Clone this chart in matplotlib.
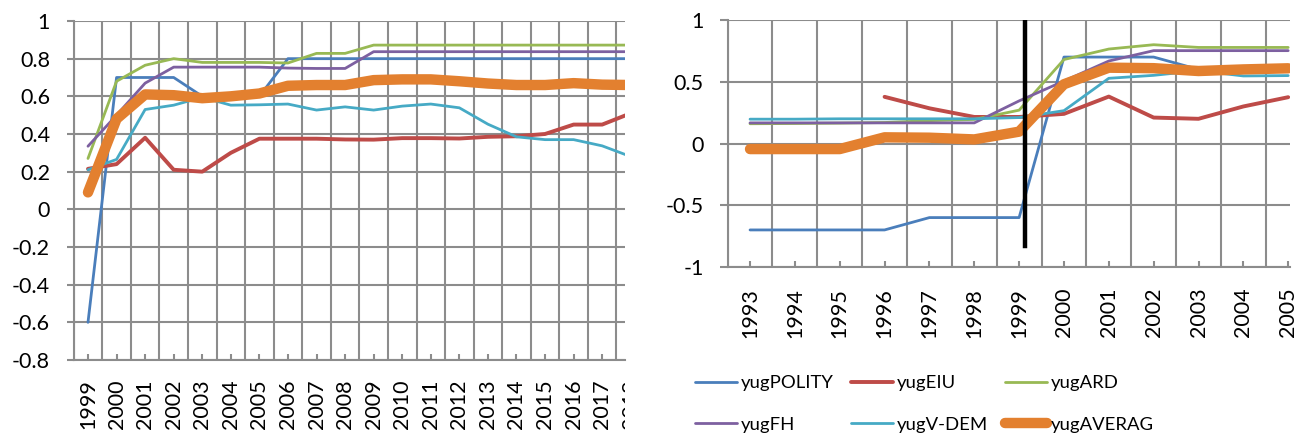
import numpy as np
import matplotlib.pyplot as plt
from matplotlib.transforms import Bbox, TransformedBbox

plt.rcParams['font.family'] = ['Lato', 'DejaVu Sans']

# left chart: 1999-2018
years_l = [str(y) for y in range(1999, 2019)]
polity_l = [-0.6, 0.7, 0.7, 0.7, 0.6, 0.6, 0.6, 0.8, 0.8, 0.8, 0.8, 0.8, 0.8, 0.8, 0.8, 0.8, 0.8, 0.8, 0.8, 0.8]
eiu_l = [0.215, 0.24, 0.38, 0.21, 0.20, 0.30, 0.375, 0.375, 0.375, 0.371, 0.37, 0.378, 0.378, 0.376, 0.385, 0.388, 0.40, 0.45, 0.45, 0.51]
ard_l = [0.27, 0.68, 0.765, 0.80, 0.78, 0.78, 0.78, 0.777, 0.828, 0.828, 0.872, 0.872, 0.872, 0.872, 0.872, 0.872, 0.872, 0.872, 0.872, 0.872]
fh_l = [0.335, 0.50, 0.67, 0.755, 0.755, 0.755, 0.755, 0.75, 0.748, 0.748, 0.837, 0.837, 0.837, 0.837, 0.837, 0.837, 0.837, 0.837, 0.837, 0.837]
vdem_l = [0.21, 0.265, 0.53, 0.553, 0.595, 0.553, 0.555, 0.559, 0.527, 0.544, 0.527, 0.548, 0.559, 0.539, 0.452, 0.385, 0.37, 0.37, 0.337, 0.28]
avg_l = [0.09, 0.48, 0.61, 0.606, 0.59, 0.60, 0.615, 0.656, 0.66, 0.66, 0.686, 0.69, 0.69, 0.68, 0.668, 0.66, 0.66, 0.67, 0.662, 0.66]

# right chart: 1993-2005
years_r = [str(y) for y in range(1993, 2006)]
polity_r = [-0.7, -0.7, -0.7, -0.7, -0.6, -0.6, -0.6, 0.7, 0.7, 0.7, 0.6, 0.6, 0.6]
eiu_r = [np.nan, np.nan, np.nan, 0.378, 0.285, 0.215, 0.215, 0.24, 0.38, 0.21, 0.20, 0.30, 0.375]
ard_r = [0.16, 0.162, 0.165, 0.17, 0.185, 0.195, 0.27, 0.68, 0.765, 0.80, 0.778, 0.778, 0.778]
fh_r = [0.167, 0.167, 0.167, 0.167, 0.167, 0.167, 0.345, 0.506, 0.668, 0.752, 0.752, 0.752, 0.752]
vdem_r = [0.197, 0.197, 0.2, 0.2, 0.2, 0.2, 0.21, 0.266, 0.528, 0.552, 0.59, 0.547, 0.55]
avg_r = [-0.045, -0.045, -0.045, 0.05, 0.047, 0.033, 0.096, 0.48, 0.614, 0.61, 0.587, 0.6, 0.609]

names = ['yugPOLITY', 'yugEIU', 'yugARD', 'yugFH', 'yugV-DEM', 'yugAVERAG']
colors = ['#4a7ebb', '#be4b48', '#98b954', '#7d60a0', '#46aac5', '#e3802f']
widths = [2.0, 2.8, 2.0, 2.0, 2.0, 7.5]
marker_pos = 6.13  # black vertical line on right chart
marker_bottom = -0.83

grid_c = '#8c8c8c'
fs = 15.5

fig = plt.figure(figsize=(13, 4.41), dpi=100)
ax1 = fig.add_axes([0.0567, 0.1837, 0.4241, 0.7687])
ax2 = fig.add_axes([0.5597, 0.3946, 0.4326, 0.56])


def style(ax, n, xmax, ymin, ymax, yt, ylabels, tlen, ypad, xpad):
    ax.set_yticks(yt)
    ax.set_yticklabels(ylabels)
    ax.set_xticks(np.arange(n))
    ax.set_xticks(np.arange(n + 1) - 0.5, minor=True)
    ax.set_xlim(-0.5, xmax)
    ax.set_ylim(ymin, ymax)
    ax.grid(which='minor', axis='x', color=grid_c, lw=1.5)
    ax.grid(which='major', axis='y', color=grid_c, lw=1.5)
    ax.set_axisbelow(True)
    for s in ['top', 'right']:
        ax.spines[s].set_visible(False)
    for s in ['left', 'bottom']:
        ax.spines[s].set_color(grid_c)
        ax.spines[s].set_linewidth(1.5)
    ax.tick_params(axis='y', length=tlen, width=1.5, color=grid_c, pad=ypad, labelsize=fs)
    ax.tick_params(axis='x', which='major', direction='in', length=4, width=1.5, color=grid_c,
                   pad=xpad, labelsize=fs, labelrotation=90)
    ax.tick_params(axis='x', which='minor', length=0)


xl = np.arange(len(years_l))
series_l = [polity_l, eiu_l, ard_l, fh_l, vdem_l, avg_l]
for s, c, w, nm in zip(series_l, colors, widths, names):
    ax1.plot(xl, s, color=c, lw=w, solid_capstyle='round', solid_joinstyle='round', label=nm)
style(ax1, len(years_l), 18.8, -0.8, 1.0, np.arange(-0.8, 1.01, 0.2),
      ['-0.8', '-0.6', '-0.4', '-0.2', '0', '0.2', '0.4', '0.6', '0.8', '1'], 5, 12, 14)
ax1.set_xticklabels(years_l)
# last year label is cut off by the chart edge
t = ax1.text(len(years_l) - 1, -20 / (0.7687 * 441), years_l[-1], transform=ax1.get_xaxis_transform(),
             rotation=90, ha='center', va='top', fontsize=fs)
t.set_clip_box(TransformedBbox(Bbox([[0, -1], [1, 1]]), ax1.transAxes))
t.set_clip_on(True)

xr = np.arange(len(years_r))
series_r = [polity_r, eiu_r, ard_r, fh_r, vdem_r, avg_r]
handles = []
for s, c, w, nm in zip(series_r, colors, widths, names):
    h, = ax2.plot(xr, s, color=c, lw=w, solid_capstyle='round', solid_joinstyle='round', label=nm)
    handles.append(h)
ax2.plot([marker_pos, marker_pos], [1.0, marker_bottom], color='black', lw=3.2)
style(ax2, len(years_r), 12.04, -1.0, 1.0, [-1, -0.5, 0, 0.5, 1],
      ['-1', '-0.5', '0', '0.5', '1'], 6, 11, 15)
ax2.set_xticklabels(years_r)

order = [0, 3, 1, 4, 2, 5]
leg = fig.legend([handles[i] for i in order], [names[i] for i in order], ncol=3,
                 loc='center left', bbox_to_anchor=(0.5346, 0.084), frameon=False,
                 fontsize=13.3, handlelength=2.3, handletextpad=0.2, columnspacing=0.9,
                 labelspacing=1.4, borderpad=0, borderaxespad=0)

fig.savefig('out.png', dpi=100)
